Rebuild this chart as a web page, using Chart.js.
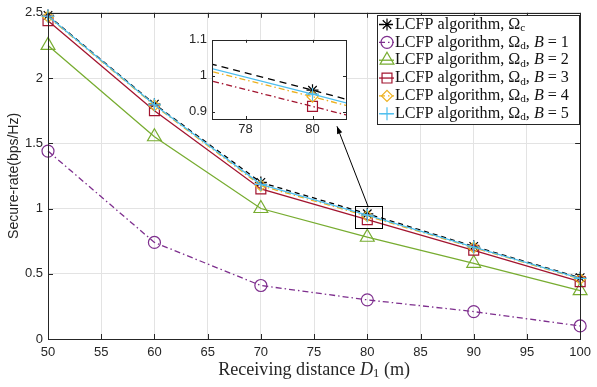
<!DOCTYPE html>
<html>
<head>
<meta charset="utf-8">
<script src="https://cdn.jsdelivr.net/npm/chart.js@4"></script>
<style>
  html, body { margin: 0; padding: 0; background: #fff; }
  #wrap { position: relative; width: 597px; height: 387px; }
  #main { position: absolute; left: 0; top: 0; }
  #inset { position: absolute; left: 180px; top: 27px; }
</style>
</head>
<body>
<div id="wrap">
  <canvas id="main" width="597" height="387"></canvas>
  <canvas id="inset" width="175" height="112"></canvas>
</div>
<script>
// ---- Data ----
const distances = [50, 60, 70, 80, 90, 100];
const rateOmegaC = [2.48, 1.80, 1.20, 0.96, 0.71, 0.47];
const rateB1 = [1.44, 0.74, 0.41, 0.30, 0.21, 0.10];
const rateB2 = [2.25, 1.55, 1.00, 0.78, 0.58, 0.37];
const rateB3 = [2.44, 1.75, 1.15, 0.915, 0.68, 0.44];
const rateB4 = [2.47, 1.79, 1.175, 0.942, 0.70, 0.46];
const rateB5 = [2.475, 1.795, 1.185, 0.949, 0.705, 0.465];

const xTicks = [50, 55, 60, 65, 70, 75, 80, 85, 90, 95, 100];
const yTicks = [0, 0.5, 1, 1.5, 2, 2.5];
const insetXTicks = [78, 80];
const insetYTicks = [0.9, 1, 1.1];

const legendLabels = ['c', 'd|1', 'd|2', 'd|3', 'd|4', 'd|5'];

// ---- Styles ----
const AXIS = '#262626';
const GRID = '#e3e3e3';
const SANS = '"Liberation Sans", Arial, sans-serif';
const SERIF = '"Liberation Serif", "Times New Roman", serif';
const DASH = [5, 4];
const DASHDOT = [6, 3, 1.5, 3];

const series = [
  { data: rateOmegaC, color: '#000000', dash: DASH, insetDash: [7, 5], marker: 'star', r: 6, inset: true },
  { data: rateB1, color: '#7E2F8E', dash: DASHDOT, marker: 'circle', r: 6, inset: false },
  { data: rateB2, color: '#77AC30', dash: [], marker: 'triangle', r: 8, inset: false },
  { data: rateB3, color: '#A2142F', dash: [], insetDash: DASHDOT, marker: 'rect', r: 7, inset: true },
  { data: rateB4, color: '#EDB120', dash: DASHDOT, marker: 'rectRot', r: 5.5, inset: true },
  { data: rateB5, color: '#4DBEEE', dash: [], marker: 'cross', r: 6.5, inset: true },
];

const fmtTick = v => String(+v.toFixed(2));

function toPoints(vals) {
  return distances.map((d, i) => ({ x: d, y: vals[i] }));
}

function makeDataset(s, i, isInset) {
  return {
    data: toPoints(s.data),
    borderColor: s.color,
    backgroundColor: 'transparent',
    borderWidth: 1.3,
    borderDash: isInset && s.insetDash ? s.insetDash : s.dash,
    pointStyle: s.marker,
    pointRadius: s.r,
    pointBorderWidth: 1.2,
    pointBorderColor: s.color,
    pointBackgroundColor: 'transparent',
    tension: 0,
    order: series.length - i,
    clip: isInset ? 0 : false,
  };
}

// text with subscripts / italics, drawn left to right
function partFont(p, size) {
  if (p.sub) return `${size * 0.7}px ${SERIF}`;
  return `${p.it ? 'italic ' : ''}${size}px ${SERIF}`;
}

function drawRich(ctx, parts, x, y, size) {
  let cx = x;
  parts.forEach(p => {
    ctx.font = partFont(p, size);
    ctx.fillText(p.t, cx, p.sub ? y + size * 0.22 : y);
    cx += ctx.measureText(p.t).width;
  });
  return cx - x;
}

function richWidth(ctx, parts, size) {
  let w = 0;
  parts.forEach(p => {
    ctx.font = partFont(p, size);
    w += ctx.measureText(p.t).width;
  });
  return w;
}

// font size that makes a run of text span the given width
function fitSize(ctx, parts, width) {
  return 15 * width / richWidth(ctx, parts, 15);
}

function legendParts(lbl) {
  const [sub, b] = lbl.split('|');
  const parts = [{ t: 'LCFP algorithm, Ω' }, { t: sub, sub: true }];
  if (b) parts.push({ t: ', ' }, { t: 'B', it: true }, { t: ' = ' + b });
  return parts;
}

function drawFrame(chart, tickLen) {
  const { ctx, chartArea: a, scales } = chart;
  ctx.save();
  ctx.strokeStyle = AXIS;
  ctx.lineWidth = 1;
  ctx.beginPath();
  scales.x.ticks.forEach(t => {
    const px = Math.round(scales.x.getPixelForValue(t.value)) + 0.5;
    ctx.moveTo(px, a.bottom); ctx.lineTo(px, a.bottom - tickLen);
    ctx.moveTo(px, a.top); ctx.lineTo(px, a.top + tickLen);
  });
  scales.y.ticks.forEach(t => {
    const py = Math.round(scales.y.getPixelForValue(t.value)) + 0.5;
    ctx.moveTo(a.left, py); ctx.lineTo(a.left + tickLen, py);
    ctx.moveTo(a.right, py); ctx.lineTo(a.right - tickLen, py);
  });
  ctx.stroke();
  ctx.strokeRect(Math.round(a.left) + 0.5, Math.round(a.top) + 0.5,
    Math.round(a.right - a.left), Math.round(a.bottom - a.top));
  ctx.restore();
}

// ---- Main chart decorations: box, zoom marker, arrow, legend, axis titles ----
const mainDecor = {
  id: 'mainDecor',
  afterDraw(chart) {
    const { ctx, chartArea: a, scales } = chart;
    const sx = scales.x, sy = scales.y;
    drawFrame(chart, 5);

    ctx.save();
    // zoom region marker
    ctx.strokeStyle = '#000';
    ctx.lineWidth = 1;
    const x0 = sx.getPixelForValue(78.8), x1 = sx.getPixelForValue(81.3);
    const y0 = sy.getPixelForValue(1.02), y1 = sy.getPixelForValue(0.855);
    ctx.strokeRect(Math.round(x0) + 0.5, Math.round(y0) + 0.5, Math.round(x1 - x0), Math.round(y1 - y0));

    // arrow towards the magnified view
    const ax0 = sx.getPixelForValue(80.1), ay0 = sy.getPixelForValue(1.01);
    const ax1 = sx.getPixelForValue(77.15), ay1 = sy.getPixelForValue(1.63);
    ctx.beginPath();
    ctx.moveTo(ax0, ay0); ctx.lineTo(ax1, ay1);
    ctx.stroke();
    const ang = Math.atan2(ay1 - ay0, ax1 - ax0);
    ctx.fillStyle = '#000';
    ctx.beginPath();
    ctx.moveTo(ax1, ay1);
    ctx.lineTo(ax1 - 8 * Math.cos(ang - 0.35), ay1 - 8 * Math.sin(ang - 0.35));
    ctx.lineTo(ax1 - 8 * Math.cos(ang + 0.35), ay1 - 8 * Math.sin(ang + 0.35));
    ctx.closePath();
    ctx.fill();

    // legend
    const lw = 202, lh = 109;
    const lx = Math.round(a.right) - 1 - lw, ly = Math.round(a.top) + 2;
    ctx.fillStyle = '#fff';
    ctx.fillRect(lx, ly, lw, lh);
    ctx.strokeStyle = AXIS;
    ctx.strokeRect(lx + 0.5, ly + 0.5, lw, lh);
    ctx.textBaseline = 'middle';
    const legSize = fitSize(ctx, legendParts(legendLabels[1]), 174);
    series.forEach((s, i) => {
      const cy = ly + 9.5 + i * 17.85;
      ctx.strokeStyle = s.color;
      ctx.lineWidth = 1.3;
      ctx.setLineDash(s.dash);
      ctx.beginPath();
      ctx.moveTo(lx + 2, cy); ctx.lineTo(lx + 17, cy);
      ctx.stroke();
      ctx.setLineDash([]);
      ctx.fillStyle = 'transparent';
      ctx.lineWidth = 1.2;
      Chart.helpers.drawPoint(ctx, { pointStyle: s.marker, radius: s.r, rotation: 0, borderWidth: 1.2 }, lx + 10, cy);
      ctx.fillStyle = '#111';
      drawRich(ctx, legendParts(legendLabels[i]), lx + 18, cy, legSize);
    });

    // x axis title
    const tParts = [{ t: 'Receiving distance ' }, { t: 'D', it: true }, { t: '1', sub: true }, { t: ' (m)' }];
    ctx.fillStyle = '#262626';
    const tSize = fitSize(ctx, tParts, 192);
    const tw = richWidth(ctx, tParts, tSize);
    drawRich(ctx, tParts, (a.left + a.right) / 2 - tw / 2, 370, tSize);

    // y axis title
    ctx.translate(14, (a.top + a.bottom) / 2);
    ctx.rotate(-Math.PI / 2);
    ctx.font = `14px ${SANS}`;
    ctx.textAlign = 'center';
    ctx.fillText('Secure-rate(bps/Hz)', 0, 0);
    ctx.restore();
  }
};

new Chart(document.getElementById('main'), {
  type: 'line',
  data: { datasets: series.map((s, i) => makeDataset(s, i, false)) },
  options: {
    responsive: false,
    animation: false,
    devicePixelRatio: 1,
    layout: { padding: { top: 7, right: 13, left: 0, bottom: 0 } },
    plugins: { legend: { display: false }, tooltip: { enabled: false } },
    scales: {
      x: {
        type: 'linear', min: 50, max: 100,
        afterBuildTicks: s => { s.ticks = xTicks.map(v => ({ value: v })); },
        afterFit: s => { s.height = 48; },
        ticks: { color: AXIS, font: { family: SANS, size: 13 }, padding: 6, maxRotation: 0, autoSkip: false, callback: fmtTick },
        grid: { color: GRID, drawTicks: false },
        border: { display: false },
      },
      y: {
        type: 'linear', min: 0, max: 2.5,
        afterBuildTicks: s => { s.ticks = yTicks.map(v => ({ value: v })); },
        afterFit: s => { s.width = 48; },
        ticks: { color: AXIS, font: { family: SANS, size: 13 }, padding: 5, callback: fmtTick },
        grid: { color: GRID, drawTicks: false },
        border: { display: false },
      }
    }
  },
  plugins: [mainDecor]
});

// ---- Magnified view around D1 = 80 m ----
const insetDecor = {
  id: 'insetDecor',
  beforeDatasetsDraw(chart) {
    const { ctx, chartArea: a } = chart;
    ctx.save();
    ctx.fillStyle = '#fff';
    ctx.fillRect(a.left, a.top, a.right - a.left, a.bottom - a.top);
    ctx.restore();
  },
  afterDraw(chart) { drawFrame(chart, 3); }
};

new Chart(document.getElementById('inset'), {
  type: 'line',
  data: { datasets: series.map((s, i) => makeDataset(s, i, true)).filter((d, i) => series[i].inset) },
  options: {
    responsive: false,
    animation: false,
    devicePixelRatio: 1,
    layout: { padding: { top: 10, right: 9, left: 0, bottom: 0 } },
    plugins: { legend: { display: false }, tooltip: { enabled: false } },
    scales: {
      x: {
        type: 'linear', min: 77, max: 81,
        afterBuildTicks: s => { s.ticks = insetXTicks.map(v => ({ value: v })); },
        afterFit: s => { s.height = 20; },
        ticks: { color: AXIS, font: { family: SANS, size: 13 }, padding: 3, maxRotation: 0, autoSkip: false, callback: fmtTick },
        grid: { display: false, drawTicks: false },
        border: { display: false },
      },
      y: {
        type: 'linear', min: 0.88, max: 1.1,
        afterBuildTicks: s => { s.ticks = insetYTicks.map(v => ({ value: v })); },
        afterFit: s => { s.width = 32; },
        ticks: { color: AXIS, font: { family: SANS, size: 13 }, padding: 5, callback: fmtTick },
        grid: { display: false, drawTicks: false },
        border: { display: false },
      }
    }
  },
  plugins: [insetDecor]
});
</script>
</body>
</html>
